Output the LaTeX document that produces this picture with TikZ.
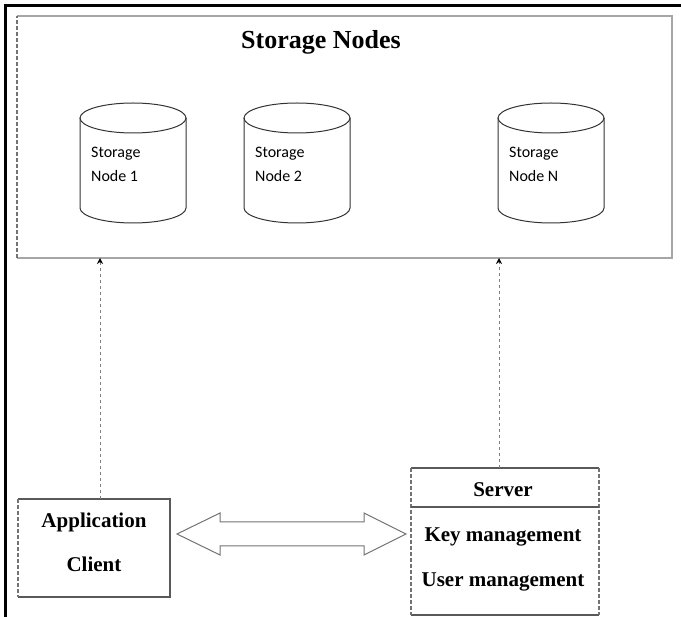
\documentclass[tikz,border=0pt]{standalone}
\usepackage{fontspec}
\setmainfont{Liberation Serif}
\newfontfamily\cylfont{Carlito}
\usetikzlibrary{arrows.meta,calc}
\tikzset{
  frameline/.style={line width=3pt,black},
  boxline/.style={line width=2pt,black!35},
  boxdash/.style={line width=1.2pt,black!55,dash pattern=on 4pt off 2pt},
  smallline/.style={line width=1.2pt,black!65},
  cyl/.style={line width=1pt,black!80},
  cyltext/.style={font=\cylfont\fontsize{16}{16}\selectfont,anchor=base west,inner sep=0pt},
  bigtext/.style={font=\bfseries\fontsize{21}{21}\selectfont,anchor=base,inner sep=0pt},
  conn/.style={line width=1pt,black!50,dash pattern=on 3pt off 3pt,
    -{Stealth[length=6pt,width=6pt,black]}},
  blockarrow/.style={line width=1pt,black!55,fill=white},
  holder/.style={inner sep=0pt,outer sep=0pt}
}
\begin{document}
\begin{tikzpicture}[x=1pt,y=-1pt]
\useasboundingbox (0,0) rectangle (681,617);
% outer frame (left and top only)
\draw[frameline] (5.5,617) -- (5.5,5.5) -- (681,5.5);

% storage nodes box
\node[holder,minimum width=655pt,minimum height=242pt] (sbox) at (344.5,137) {};
\draw[boxline] (sbox.north west) -- (sbox.north east) -- (sbox.south east) -- (sbox.south west);
\draw[boxdash] (sbox.south west) -- (sbox.north west);
\node[bigtext,font=\bfseries\fontsize{26}{26}\selectfont] (title) at (321,49) {Storage Nodes};

% cylinders
\foreach \cx/\lab/\nm in {80/1/c1,244/2/c2,498/N/cn}{
  \node[holder,minimum width=106pt,minimum height=120pt] (\nm) at (\cx+53,163) {};
  \draw[cyl] (\cx,118) -- (\cx,208) arc[start angle=180,end angle=360,x radius=53pt,y radius=15pt] -- (\cx+106,118);
  \draw[cyl] (\cx+53,118) ellipse[x radius=53pt,y radius=15pt];
  \node[cyltext] (\nm a) at (\cx+11,158) {Storage};
  \node[cyltext] (\nm b) at (\cx+11,182) {Node \lab};
}

% application client
\node[holder,minimum width=152pt,minimum height=98pt] (app) at (94,548) {};
\draw[smallline] (app.south west) -- (app.south east) -- (app.north east) -- (app.north west);
\draw[boxdash] (app.north west) -- (app.south west);
\node[bigtext] (appa) at (94,528) {Application};
\node[bigtext] (appb) at (94,572) {Client};

% server
\node[holder,minimum width=188pt,minimum height=147pt] (srv) at (505,541.5) {};
\draw[smallline] (srv.north west) -- (srv.north east);
\draw[smallline] (srv.south west) -- (srv.south east);
\draw[boxdash] (srv.north west) -- (srv.south west);
\draw[boxdash] (srv.north east) -- (srv.south east);
\coordinate (sepl) at (411,507);
\coordinate (sepr) at (599,507);
\draw[smallline] (sepl) -- (sepr);
\node[bigtext] (srvt) at (503,497) {Server};
\node[bigtext] (srvk) at (503,542) {Key management};
\node[bigtext] (srvu) at (503,587) {User management};

% connectors
\draw[conn] ([xshift=6pt]app.north) -- ([xshift=6pt]app.north |- sbox.south);
\draw[conn] ([xshift=-6pt]srv.north) -- ([xshift=-6pt]srv.north |- sbox.south);

% double block arrow
\draw[blockarrow] (177,534) -- (220,513) -- (220,522) -- (364,522) -- (364,513)
  -- (406,534) -- (364,555) -- (364,546) -- (220,546) -- (220,555) -- cycle;
\end{tikzpicture}
\end{document}
